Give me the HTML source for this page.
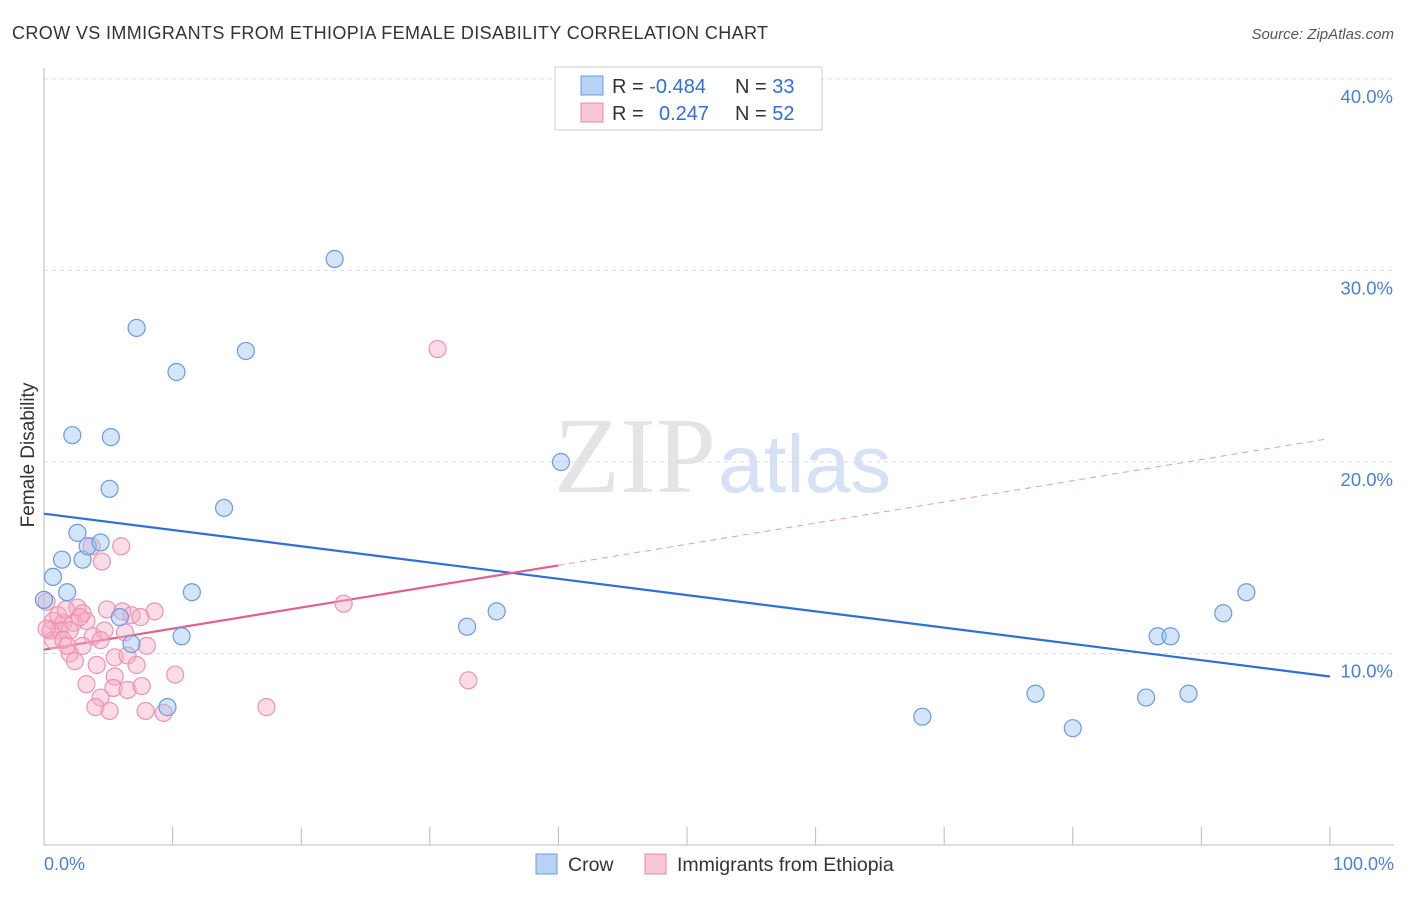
<!DOCTYPE html>
<html><head><meta charset="utf-8"><style>
body{margin:0;background:#fff;font-family:"Liberation Sans",sans-serif}
</style></head><body>
<svg width="1406" height="892" xmlns="http://www.w3.org/2000/svg" font-family="Liberation Sans, sans-serif" id="chart">
<text x="12" y="39" font-size="18" fill="#333" textLength="756" lengthAdjust="spacing">CROW VS IMMIGRANTS FROM ETHIOPIA FEMALE DISABILITY CORRELATION CHART</text>
<text x="1394" y="39" font-size="15" fill="#555" font-style="italic" text-anchor="end">Source: ZipAtlas.com</text>
<text x="716" y="492" font-size="108" fill="#e4e4e4" text-anchor="end" font-family="Liberation Serif, serif">ZIP</text>
<text x="718" y="492" font-size="82" fill="#d6e2f4">atlas</text>
<text transform="translate(34,455) rotate(-90)" font-size="19" fill="#333" text-anchor="middle">Female Disability</text>
<g id="grid"></g><g id="axes"></g><g id="lines"></g><g id="pts"></g>
<g>
<rect x="555" y="67" width="267" height="63" fill="#fff" stroke="#ccc"/>
<rect x="581" y="76" width="22" height="19" fill="#b8d2f5" stroke="#6a9be0"/>
<rect x="581" y="103" width="22" height="19" fill="#f9c6d6" stroke="#e88aaa"/>
<text x="612" y="93" font-size="20" fill="#333">R = <tspan fill="#2f6fd6">-0.484</tspan><tspan x="735">N = </tspan><tspan fill="#2f6fd6">33</tspan></text>
<text x="612" y="120" font-size="20" fill="#333">R = <tspan x="659" fill="#2f6fd6">0.247</tspan><tspan x="735">N = </tspan><tspan fill="#2f6fd6">52</tspan></text>
</g>
<g>
<rect x="536" y="854" width="21" height="20" fill="#b8d2f5" stroke="#6a9be0"/>
<text x="568" y="871" font-size="19.5" fill="#333">Crow</text>
<rect x="645" y="854" width="21" height="20" fill="#f9c6d6" stroke="#e88aaa"/>
<text x="677" y="871" font-size="19.5" fill="#333">Immigrants from Ethiopia</text>
</g>
<text x="44" y="870" font-size="18" fill="#4a7fd8">0.0%</text>
<text x="1394" y="870" font-size="18" fill="#4a7fd8" text-anchor="end">100.0%</text>
</svg>
<script>
const yTicks=[10,20,30,40];
const crowX=[0,0.7,1.4,1.8,2.2,2.6,3.0,3.4,4.4,5.1,5.2,5.9,6.8,7.2,9.6,10.3,10.7,11.5,14.0,15.7,22.6,32.9,35.2,40.2,68.3,77.1,80.0,85.7,86.6,87.6,89.0,91.7,93.5];
const crowY=[12.8,14.0,14.9,13.2,21.4,16.3,14.9,15.6,15.8,18.6,21.3,11.9,10.5,27.0,7.2,24.7,10.9,13.2,17.6,25.8,30.6,11.4,12.2,20.0,6.7,7.9,6.1,7.7,10.9,10.9,7.9,12.1,13.2];
const ethX=[6.0,4.5,3.7,0.2,2.6,3.0,4.9,6.1,6.8,8.6,7.5,0.7,1.5,2.3,3.3,0.5,1.2,2.0,3.8,4.7,6.3,0.7,1.5,3.0,8.0,5.5,6.5,2.0,2.4,4.1,7.2,10.2,5.5,3.3,5.4,6.5,7.6,4.4,4.0,5.1,7.9,9.3,30.6,23.3,33.0,17.3,0.2,1.1,1.8,2.8,4.4,1.7];
const ethY=[15.6,14.8,15.6,12.7,12.4,12.1,12.3,12.2,12.0,12.2,11.9,11.7,11.6,11.6,11.7,11.2,11.2,11.2,10.9,11.2,11.1,10.7,10.7,10.4,10.4,9.8,9.9,10.0,9.6,9.4,9.4,8.9,8.8,8.4,8.2,8.1,8.3,7.7,7.2,7.0,7.0,6.9,25.9,12.6,8.6,7.2,11.3,12.0,10.4,11.9,10.7,12.3];
const crowLine=[17.3,8.8];
const ethLine=[10.2,14.6,21.2];
const ethLineX=[0,40,99.7];
const NS="http://www.w3.org/2000/svg";
const X=v=>44+v*12.86, Y=v=>845-v*19.15;
function mk(t,a,p){const e=document.createElementNS(NS,t);for(const k in a)e.setAttribute(k,a[k]);document.getElementById(p).appendChild(e);return e;}
yTicks.forEach(t=>{
 const l=mk('line',{x1:44,x2:1394,y1:Y(t),y2:Y(t),stroke:'#ddd','stroke-dasharray':'4,4'},'grid');
 
 
 const tx=mk('text',{x:1393,y:Y(t)+24,'font-size':18.5,fill:'#4a7fd8','text-anchor':'end'},'grid');
 tx.textContent=t.toFixed(1)+'%';
 
 
});
const ax=mk('line',{x1:44,x2:44,y1:68,y2:845,stroke:'#bbb'},'axes');


const bx=mk('line',{x1:44,x2:1394,y1:845,y2:845,stroke:'#bbb'},'axes');


for(let i=0;i<=10;i++){const t=mk('line',{x1:X(i*10),x2:X(i*10),y1:827,y2:845,stroke:'#bbb'},'axes');
 
 }
ethX.forEach((x,i)=>{const c=mk('circle',{cx:X(x),cy:Y(ethY[i]),r:8.5,fill:'rgba(246,170,196,0.42)',stroke:'#ec94b2','stroke-width':1.2},'pts');
 
 });
crowX.forEach((x,i)=>{const c=mk('circle',{cx:X(x),cy:Y(crowY[i]),r:8.5,fill:'rgba(160,196,242,0.45)',stroke:'#6a9be0','stroke-width':1.2},'pts');
 
 });
const bl=mk('line',{x1:X(0),y1:Y(crowLine[0]),x2:X(100),y2:Y(crowLine[1]),stroke:'#2f6fd6','stroke-width':2.2},'lines');


const pl=mk('line',{x1:X(ethLineX[0]),y1:Y(ethLine[0]),x2:X(ethLineX[1]),y2:Y(ethLine[1]),stroke:'#e0608f','stroke-width':2.2},'lines');


const pd=mk('line',{x1:X(ethLineX[1]),y1:Y(ethLine[1]),x2:X(ethLineX[2]),y2:Y(ethLine[2]),stroke:'#e89ab5','stroke-width':1,'stroke-dasharray':'6,5'},'lines');


</script>
</body></html>
